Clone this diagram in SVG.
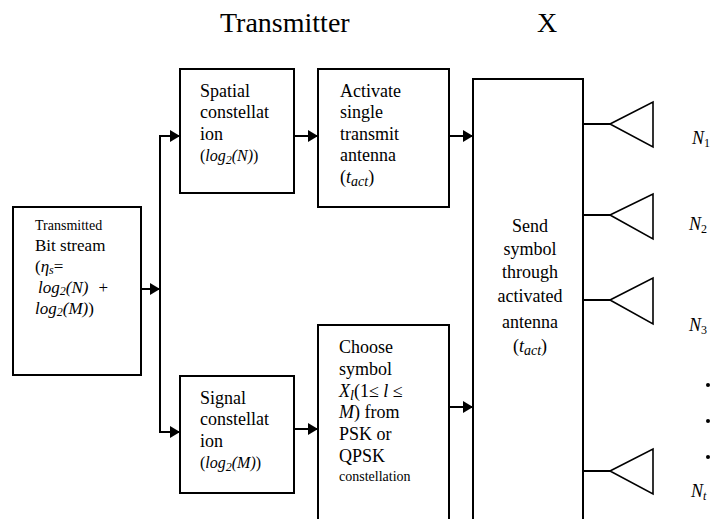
<svg xmlns="http://www.w3.org/2000/svg" width="711" height="519" viewBox="0 0 711 519">
<defs>
<marker id="ah" markerWidth="10" markerHeight="12" refX="10" refY="6" orient="auto" markerUnits="userSpaceOnUse">
<path d="M0,0 L10,6 L0,12 Z" fill="#000"/>
</marker>
<style>
.box{fill:#fff;stroke:#000;stroke-width:2}
.ln{fill:none;stroke:#000;stroke-width:2}
.ant{fill:#fff;stroke:#000;stroke-width:1.6}
text{font-family:'Liberation Serif','Times New Roman',serif;font-size:18px;fill:#000}
.s{font-size:14px}
.q{font-size:16px}
.r{font-size:17px}
.m{font-style:italic}
.c{text-anchor:middle}
.big{font-size:28px}
</style>
</defs>
<rect width="711" height="519" fill="#fff"/>
<text class="big" x="220" y="32">Transmitter</text>
<text class="big" x="537" y="32">X</text>

<g id="connectors">
<line class="ln" x1="141" y1="289" x2="160" y2="289" marker-end="url(#ah)"/>
<path class="ln" d="M180,136 H160 V432 H180"/>
<line class="ln" x1="160" y1="136" x2="180" y2="136" marker-end="url(#ah)"/>
<line class="ln" x1="160" y1="432" x2="180" y2="432" marker-end="url(#ah)"/>
<line class="ln" x1="294" y1="136" x2="318" y2="136" marker-end="url(#ah)"/>
<line class="ln" x1="449" y1="136" x2="473" y2="136" marker-end="url(#ah)"/>
<line class="ln" x1="294" y1="429" x2="318" y2="429" marker-end="url(#ah)"/>
<line class="ln" x1="449" y1="407" x2="473" y2="407" marker-end="url(#ah)"/>
<line class="ln" x1="583" y1="124" x2="610" y2="124"/>
<line class="ln" x1="583" y1="215" x2="610" y2="215"/>
<line class="ln" x1="583" y1="300" x2="610" y2="300"/>
<line class="ln" x1="583" y1="471" x2="610" y2="471"/>
</g>

<g id="input">
<rect class="box" x="13" y="207" width="128" height="168"/>
<text class="s" x="35" y="230">Transmitted</text>
<text class="r" x="35" y="251">Bit stream</text>
<text class="r" x="35" y="272">(<tspan class="m">η</tspan><tspan class="m" font-size="12" dy="2">s</tspan><tspan dy="-2">=</tspan></text>
<text class="r" x="38" y="293"><tspan class="m">log</tspan><tspan class="m" font-size="12" dy="2">2</tspan><tspan class="m" dy="-2">(N)</tspan><tspan dx="10">+</tspan></text>
<text class="r" x="35" y="314"><tspan class="m">log</tspan><tspan class="m" font-size="12" dy="2">2</tspan><tspan class="m" dy="-2">(M)</tspan>)</text>
</g>

<g id="spatial">
<rect class="box" x="180" y="69" width="114" height="124"/>
<text x="200" y="97">Spatial</text>
<text x="200" y="118">constellat</text>
<text x="200" y="140">ion</text>
<text class="q" x="200" y="161">(<tspan class="m">log</tspan><tspan class="m" font-size="12" dy="3">2</tspan><tspan class="m" dy="-3">(N)</tspan>)</text>
</g>

<g id="activate">
<rect class="box" x="318" y="69" width="131" height="138"/>
<text x="340" y="97">Activate</text>
<text x="340" y="118">single</text>
<text x="340" y="140">transmit</text>
<text x="340" y="161">antenna</text>
<text x="340" y="183">(<tspan class="m">t</tspan><tspan class="m s" dy="3">act</tspan><tspan dy="-3">)</tspan></text>
</g>

<g id="signal">
<rect class="box" x="180" y="376" width="114" height="117"/>
<text x="200" y="404">Signal</text>
<text x="200" y="425">constellat</text>
<text x="200" y="447">ion</text>
<text class="q" x="200" y="468">(<tspan class="m">log</tspan><tspan class="m" font-size="12" dy="3">2</tspan><tspan class="m" dy="-3">(M)</tspan>)</text>
</g>

<g id="choose">
<rect class="box" x="318" y="325" width="131" height="200"/>
<text x="339" y="353">Choose</text>
<text x="339" y="375">symbol</text>
<text x="339" y="397"><tspan class="m">X</tspan><tspan class="m s" dy="3">l</tspan><tspan dy="-3">(1≤ </tspan><tspan class="m">l</tspan> ≤</text>
<text x="339" y="418"><tspan class="m">M</tspan>) from</text>
<text x="339" y="440">PSK or</text>
<text x="339" y="462">QPSK</text>
<text class="s" x="339" y="481">constellation</text>
</g>

<g id="send">
<rect class="box" x="473" y="79" width="110" height="450"/>
<text class="c" x="530" y="232">Send</text>
<text class="c" x="530" y="255">symbol</text>
<text class="c" x="530" y="278">through</text>
<text class="c" x="530" y="302">activated</text>
<text class="c" x="530" y="328">antenna</text>
<text class="c" x="530" y="352">(<tspan class="m">t</tspan><tspan class="m s" dy="3">act</tspan><tspan dy="-3">)</tspan></text>
</g>

<g id="antenna1">
<path class="ant" d="M610,124 L653,102 L653,147 Z"/>
<text class="m" font-size="17" x="692" y="144">N<tspan font-size="12" dy="3" font-style="normal">1</tspan></text>
</g>
<g id="antenna2">
<path class="ant" d="M610,215 L653,194 L653,239 Z"/>
<text class="m" font-size="17" x="689" y="230">N<tspan font-size="12" dy="3" font-style="normal">2</tspan></text>
</g>
<g id="antenna3">
<path class="ant" d="M610,300 L653,278 L653,324 Z"/>
<text class="m" font-size="17" x="689" y="331">N<tspan font-size="12" dy="3" font-style="normal">3</tspan></text>
</g>
<g id="antennaT">
<path class="ant" d="M610,471 L653,449 L653,494 Z"/>
<text class="m" font-size="17" x="691" y="497">N<tspan font-size="12" dy="3">t</tspan></text>
</g>
<g id="dots">
<circle cx="708" cy="385" r="2"/>
<circle cx="708" cy="421" r="2"/>
<circle cx="708" cy="457" r="2"/>
</g>
</svg>
